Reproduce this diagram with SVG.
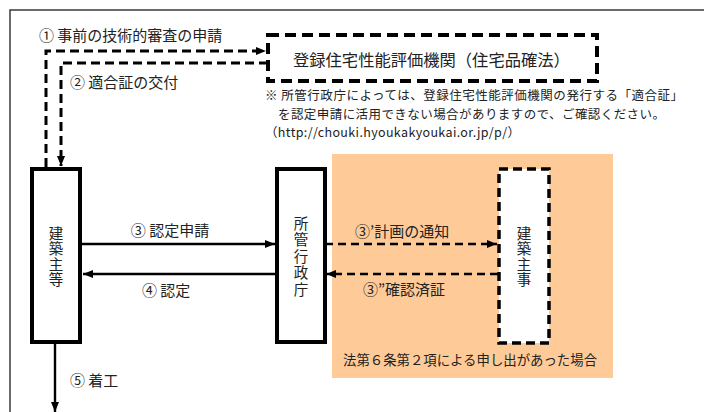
<svg xmlns="http://www.w3.org/2000/svg" width="704" height="412" viewBox="0 0 704 412">
<style>
text{font-family:"Noto Sans CJK JP","Noto Sans",sans-serif;fill:#222}
.lbl{font-size:15px}
.note{font-size:12.5px}
.vt{font-size:14.5px;text-anchor:middle;writing-mode:vertical-rl}
.solid{stroke:#000;stroke-width:4;fill:#fff}
.dbox{stroke:#000;stroke-width:4;fill:#fff;stroke-dasharray:11 6}
.ln{stroke:#000;stroke-width:2.4;fill:none}
.dl{stroke:#000;stroke-width:3;fill:none;stroke-dasharray:9 5}
</style>
<defs>
<marker id="ah" viewBox="0 0 10 8" refX="10" refY="4" markerWidth="10" markerHeight="8" markerUnits="userSpaceOnUse" orient="auto">
<path d="M0,0 L10,4 L0,8 Z" fill="#000"/>
</marker>
</defs>
<path d="M10,412 V10 H704" fill="none" stroke="#3a3a3a" stroke-width="1.5"/>
<rect x="332" y="154" width="281" height="224" fill="#FECB98"/>
<g id="connectors">
<path class="dl" d="M46,167 V51 H266" marker-end="url(#ah)"/>
<path class="dl" d="M268,63 H61 V166" marker-end="url(#ah)"/>
<path class="ln" d="M82,244 H275" marker-end="url(#ah)"/>
<path class="ln" d="M276,274 H83" marker-end="url(#ah)"/>
<path class="ln" d="M55,343 V412" marker-end="url(#ah)"/>
<path class="ln" d="M325,244 H497" stroke-dasharray="8 5" marker-end="url(#ah)"/>
<path class="ln" d="M498,274 H326" stroke-dasharray="8 5" marker-end="url(#ah)"/>
<text class="lbl" x="39" y="40.5">① 事前の技術的審査の申請</text>
<text class="lbl" x="70" y="87.5">② 適合証の交付</text>
<text class="lbl" x="170" y="236" text-anchor="middle">③ 認定申請</text>
<text class="lbl" x="142" y="296">④ 認定</text>
<text class="lbl" x="70" y="386">⑤ 着工</text>
<text class="lbl" x="355" y="237">③’計画の通知</text>
<text class="lbl" x="363" y="295">③”確認済証</text>
</g>
<g id="hyouka">
<rect class="dbox" x="268" y="35" width="329" height="46"/>
<text x="293" y="66" style="font-size:16.3px">登録住宅性能評価機関（住宅品確法）</text>
</g>
<g id="note">
<text class="note" x="265" y="99.5" textLength="418" lengthAdjust="spacing">※ 所管行政庁によっては、登録住宅性能評価機関の発行する「適合証」</text>
<text class="note" x="278" y="118.5" textLength="387" lengthAdjust="spacing">を認定申請に活用できない場合がありますので、ご確認ください。</text>
<text class="note" x="265" y="137" textLength="255" lengthAdjust="spacing">（http://chouki.hyoukakyoukai.or.jp/p/）</text>
</g>
<g id="kenchikunushi">
<rect class="solid" x="32" y="169" width="48" height="173"/>
<text class="vt" x="56" y="257" letter-spacing="1">建築主等</text>
</g>
<g id="gyousei">
<rect class="solid" x="277" y="169" width="48" height="173"/>
<text class="vt" x="301" y="257" letter-spacing="2">所管行政庁</text>
</g>
<g id="shuji">
<rect x="499" y="169" width="50" height="174" fill="#fff" stroke="#000" stroke-width="3.5" stroke-dasharray="9 5"/>
<text class="vt" x="524" y="257" letter-spacing="1">建築主事</text>
</g>
<g id="caption">
<text x="343" y="365" style="font-size:13.4px">法第６条第２項による申し出があった場合</text>
</g>
</svg>
